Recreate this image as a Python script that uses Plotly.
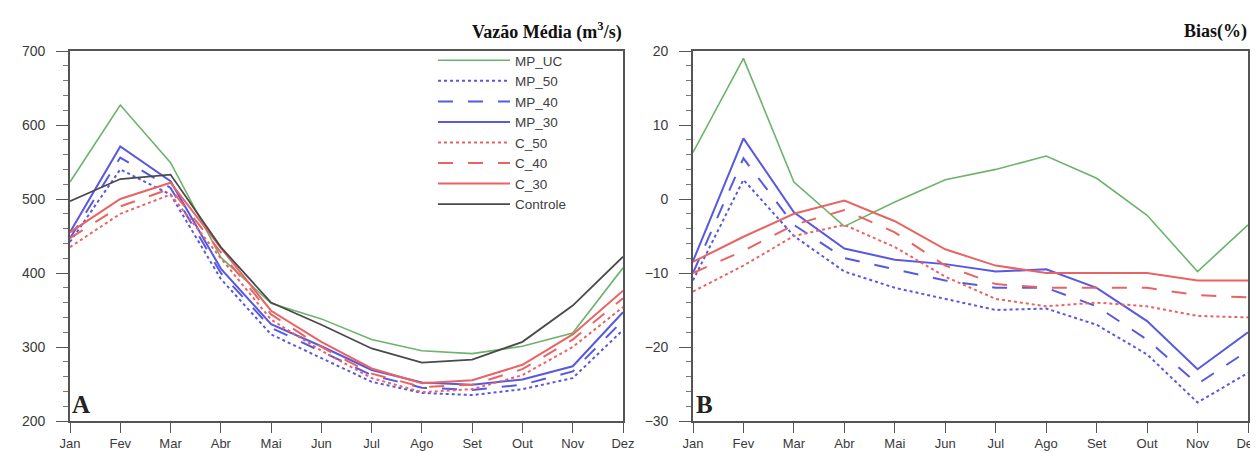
import plotly.graph_objects as go

months = ["Jan", "Fev", "Mar", "Abr", "Mai", "Jun", "Jul", "Ago", "Set", "Out", "Nov", "Dez"]

# Panel A: mean discharge (m3/s)
q_mp_uc = [523, 627, 549, 421, 359, 338, 310, 295, 291, 301, 319, 407]
q_mp_50 = [442, 540, 506, 392, 317, 285, 253, 238, 235, 243, 258, 323]
q_mp_40 = [447, 556, 515, 400, 326, 294, 262, 245, 242, 249, 267, 336]
q_mp_30 = [455, 571, 524, 406, 331, 301, 269, 252, 249, 256, 274, 347]
q_c_50 = [435, 480, 506, 420, 337, 295, 258, 239, 243, 262, 300, 354]
q_c_40 = [447, 490, 514, 428, 344, 300, 264, 246, 249, 270, 310, 366]
q_c_30 = [455, 500, 522, 434, 349, 307, 271, 251, 255, 276, 317, 376]
q_controle = [497, 527, 533, 435, 360, 330, 298, 279, 283, 307, 356, 422]

# Panel B: bias (%)
b_mp_uc = [6.3, 19.0, 2.3, -3.7, -0.4, 2.6, 4.0, 5.8, 2.8, -2.2, -9.8, -3.5]
b_mp_50 = [-11.0, 2.6, -5.0, -9.8, -12.0, -13.5, -15.0, -14.8, -17.0, -21.0, -27.5, -23.5]
b_mp_40 = [-10.0, 5.5, -3.5, -8.0, -9.5, -11.0, -12.0, -12.0, -14.5, -19.0, -25.0, -20.5]
b_mp_30 = [-8.4, 8.2, -1.8, -6.7, -8.2, -8.8, -9.8, -9.5, -12.0, -16.5, -23.0, -18.0]
b_c_50 = [-12.5, -9.0, -5.0, -3.5, -6.5, -10.5, -13.5, -14.5, -14.0, -14.5, -15.8, -16.0]
b_c_40 = [-10.0, -7.0, -3.5, -1.5, -4.5, -9.0, -11.5, -12.0, -12.0, -12.0, -13.0, -13.3]
b_c_30 = [-8.5, -5.1, -2.0, -0.2, -3.0, -6.8, -9.0, -10.0, -10.0, -10.0, -11.0, -11.0]

GREEN = "#6cb36c"
BLUE = "#5858e0"
RED = "#e86464"
GRAY = "#4a4a4a"

series_a = [
    ("MP_UC", q_mp_uc, GREEN, "solid", 1.6),
    ("MP_50", q_mp_50, BLUE, "dot", 2.0),
    ("MP_40", q_mp_40, BLUE, "longdash", 2.0),
    ("MP_30", q_mp_30, BLUE, "solid", 2.0),
    ("C_50", q_c_50, RED, "dot", 2.0),
    ("C_40", q_c_40, RED, "longdash", 2.0),
    ("C_30", q_c_30, RED, "solid", 2.0),
    ("Controle", q_controle, GRAY, "solid", 1.8),
]
series_b = [
    ("MP_UC", b_mp_uc, GREEN, "solid", 1.6),
    ("MP_50", b_mp_50, BLUE, "dot", 2.0),
    ("MP_40", b_mp_40, BLUE, "longdash", 2.0),
    ("MP_30", b_mp_30, BLUE, "solid", 2.0),
    ("C_50", b_c_50, RED, "dot", 2.0),
    ("C_40", b_c_40, RED, "longdash", 2.0),
    ("C_30", b_c_30, RED, "solid", 2.0),
]

fig = go.Figure()
for name, vals, col, dash, w in series_a:
    fig.add_trace(go.Scatter(x=months, y=vals, mode="lines", name=name,
                             line=dict(color=col, dash=dash, width=w),
                             xaxis="x", yaxis="y"))
for name, vals, col, dash, w in series_b:
    fig.add_trace(go.Scatter(x=months, y=vals, mode="lines", name=name,
                             line=dict(color=col, dash=dash, width=w),
                             xaxis="x2", yaxis="y2", showlegend=False))

W, H = 1258, 453
top = 1 - 43 / H
bot = 1 - 413 / H
tickfont = dict(family="Liberation Sans, Arial, sans-serif", size=14, color="#3a3a3a")
xtickfont = dict(family="Liberation Sans, Arial, sans-serif", size=13, color="#3a3a3a")
axcommon = dict(showline=True, linecolor="#555", linewidth=1.6, mirror=True,
                showgrid=False, zeroline=False, ticks="outside",
                tickcolor="#555", tickwidth=1.3, automargin=False)

fig.update_layout(
    width=W, height=H,
    margin=dict(l=0, r=0, t=0, b=0),
    paper_bgcolor="white", plot_bgcolor="white",
    xaxis=dict(domain=[62 / W, 615 / W], range=[0, 11], anchor="y", ticklen=10,
               ticklabelstandoff=0, tickfont=xtickfont, **axcommon),
    yaxis=dict(domain=[bot, top], range=[200, 700], dtick=100, anchor="x", ticklen=12,
               ticklabelstandoff=8, tickfont=tickfont,
               minor=dict(dtick=20, ticks="outside", ticklen=5, tickcolor="#777"),
               **axcommon),
    xaxis2=dict(domain=[685 / W, 1240 / W], range=[0, 11], anchor="y2", ticklen=10,
                ticklabelstandoff=0, tickfont=xtickfont, **axcommon),
    yaxis2=dict(domain=[bot, top], range=[-30, 20], dtick=10, anchor="x2", ticklen=12,
                ticklabelstandoff=8, tickfont=tickfont,
                minor=dict(dtick=2, ticks="outside", ticklen=5, tickcolor="#777"),
                **axcommon),
    legend=dict(x=425 / W, xanchor="left", y=1 - 37 / H, yanchor="top",
                bgcolor="rgba(255,255,255,0)", borderwidth=0,
                font=dict(family="Liberation Sans, Arial, sans-serif", size=13.5, color="#404040"),
                tracegroupgap=0, itemwidth=72),
    showlegend=True,
)

fig.add_annotation(x=616 / W, y=1 - 23 / H, xref="paper", yref="paper",
                   xanchor="right", yanchor="middle", showarrow=False,
                   text="<b>Vazão Média (m<sup>3</sup>/s)</b>",
                   font=dict(family="Liberation Serif, serif", size=18, color="#111"))
fig.add_annotation(x=1241 / W, y=1 - 23 / H, xref="paper", yref="paper",
                   xanchor="right", yanchor="middle", showarrow=False,
                   text="<b>Bias(%)</b>",
                   font=dict(family="Liberation Serif, serif", size=18, color="#111"))
fig.add_annotation(x=62 / W, y=1 - 396 / H, xref="paper", yref="paper",
                   xanchor="left", yanchor="middle", showarrow=False,
                   text="<b>A</b>", font=dict(family="Liberation Serif, serif", size=25, color="#222"))
fig.add_annotation(x=686 / W, y=1 - 396 / H, xref="paper", yref="paper",
                   xanchor="left", yanchor="middle", showarrow=False,
                   text="<b>B</b>", font=dict(family="Liberation Serif, serif", size=25, color="#222"))

fig.write_html("out.html")
